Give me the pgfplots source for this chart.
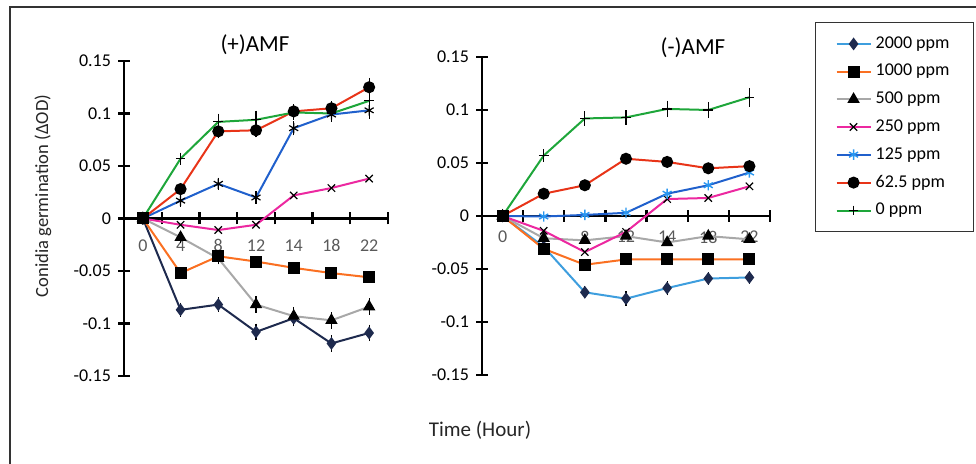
\documentclass[border=0pt]{standalone}
\usepackage{fontspec}
\setmainfont{Carlito}
\usepackage{pgfplots}
\pgfplotsset{compat=1.18}

\definecolor{cnavy}{RGB}{30,42,78}
\definecolor{csky}{RGB}{62,158,222}
\definecolor{corange}{RGB}{250,112,34}
\definecolor{cgray}{RGB}{168,168,168}
\definecolor{cmag}{RGB}{236,40,160}
\definecolor{cblue}{RGB}{32,96,204}
\definecolor{clblue}{RGB}{40,150,240}
\definecolor{cred}{RGB}{232,52,24}
\definecolor{cgreen}{RGB}{30,166,58}
\definecolor{ctick}{RGB}{90,90,90}

\pgfplotsset{
  panel/.style={
    scale only axis, clip=false,
    axis x line=middle, axis y line=left,
    hide obscured x ticks=false, hide obscured y ticks=false,
    axis line style={-, line width=1.1pt, black},
    xmin=-0.5, xmax=6.5, ymin=-0.15, ymax=0.15,
    xtick={-0.5,0.5,1.5,2.5,3.5,4.5,5.5,6.5},
    x tick label as interval,
    xticklabels={0,4,8,12,14,18,22},
    ytick={-0.15,-0.1,-0.05,0,0.05,0.1,0.15},
    yticklabels={-0.15,-0.1,-0.05,0,0.05,0.1,0.15},
    tick align=center, major tick length=6pt,
    tick style={line width=1.1pt, black},
    tick label style={font=\fontsize{9}{11}\selectfont},
    xticklabel style={text=ctick},
    every axis plot/.append style={line width=1pt},
  },
  ebar/.style={error bars/.cd, y dir=both, y explicit,
    error bar style={black, line width=0.6pt},
    error mark options={black, line width=0.6pt, mark size=2pt}},
  m2000/.style={mark=diamond*, mark size=2.4pt, mark options={fill=cnavy, draw=cnavy}},
  m1000/.style={corange, mark=square*, mark size=2.5pt, mark options={fill=black, draw=black}},
  m500/.style={cgray, mark=triangle*, mark size=2.6pt, mark options={fill=black, draw=black}},
  m250/.style={cmag, mark=x, mark size=2.6pt, mark options={black, line width=0.6pt}},
  m62/.style={cred, mark=*, mark size=2.5pt, mark options={fill=black, draw=black}},
  m0/.style={cgreen, mark=+, mark size=2.4pt, mark options={black, line width=0.6pt}},
}

\begin{document}
\begin{tikzpicture}
\useasboundingbox (0,0) rectangle (488pt,232pt);
\draw[line width=0.6pt, black!80] (5pt,0) -- (5pt,228.5pt) -- (488pt,228.5pt);

% (+)AMF
\begin{axis}[panel, at={(62pt,44pt)}, anchor=south west,
  width=132pt, height=157.5pt,
  xticklabel style={yshift=-4pt}]
\addplot[m2000, cnavy, ebar] coordinates {
  (0,0) +- (0,0) (1,-0.087) +- (0,0.003) (2,-0.082) +- (0,0.003)
  (3,-0.108) +- (0,0.004) (4,-0.095) +- (0,0.004) (5,-0.119) +- (0,0.004)
  (6,-0.109) +- (0,0.004)};
\addplot[m1000] coordinates {
  (0,0) (1,-0.052) (2,-0.036) (3,-0.041) (4,-0.047) (5,-0.052) (6,-0.056)};
\addplot[m500, ebar] coordinates {
  (0,0) +- (0,0) (1,-0.018) +- (0,0.002) (2,-0.038) +- (0,0.002)
  (3,-0.082) +- (0,0.004) (4,-0.093) +- (0,0.005) (5,-0.097) +- (0,0.004)
  (6,-0.084) +- (0,0.004)};
\addplot[m250] coordinates {
  (0,0) (1,-0.006) (2,-0.011) (3,-0.006) (4,0.022) (5,0.029) (6,0.038)};
\addplot[cblue, mark=asterisk, mark size=2.6pt, mark options={black, line width=0.6pt}, ebar] coordinates {
  (0,0) +- (0,0) (1,0.017) +- (0,0.002) (2,0.033) +- (0,0.002)
  (3,0.020) +- (0,0.002) (4,0.086) +- (0,0.003) (5,0.099) +- (0,0.003)
  (6,0.103) +- (0,0.004)};
\addplot[m62, ebar] coordinates {
  (0,0) +- (0,0) (1,0.028) +- (0,0.002) (2,0.083) +- (0,0.003)
  (3,0.084) +- (0,0.003) (4,0.102) +- (0,0.003) (5,0.105) +- (0,0.003)
  (6,0.125) +- (0,0.005)};
\addplot[m0, ebar] coordinates {
  (0,0) +- (0,0) (1,0.057) +- (0,0.002) (2,0.092) +- (0,0.004)
  (3,0.094) +- (0,0.005) (4,0.101) +- (0,0.003) (5,0.100) +- (0,0.003)
  (6,0.112) +- (0,0.006)};
\addplot[m1000, only marks] coordinates {(0,0)};
\end{axis}

% (-)AMF
\begin{axis}[panel, at={(241pt,44.5pt)}, anchor=south west,
  width=144pt, height=159pt,
  xticklabel style={yshift=-1pt},
  legend style={at={(1.156,1.110)}, anchor=north west,
    font=\fontsize{9}{11}\selectfont, draw=black!80, line width=0.6pt,
    row sep=2.5pt, inner xsep=10pt, inner ysep=5pt},
  legend cell align=left]
\addplot[m2000, csky, ebar] coordinates {
  (0,0) +- (0,0) (1,-0.029) +- (0,0.002) (2,-0.072) +- (0,0.002)
  (3,-0.078) +- (0,0.003) (4,-0.068) +- (0,0.003) (5,-0.059) +- (0,0.002)
  (6,-0.058) +- (0,0.002)};
\addlegendentry{2000 ppm}
\addplot[m1000] coordinates {
  (0,0) (1,-0.031) (2,-0.046) (3,-0.041) (4,-0.041) (5,-0.041) (6,-0.041)};
\addlegendentry{1000 ppm}
\addplot[m500] coordinates {
  (0,0) (1,-0.021) (2,-0.023) (3,-0.019) (4,-0.025) (5,-0.019) (6,-0.022)};
\addlegendentry{500 ppm}
\addplot[m250] coordinates {
  (0,0) (1,-0.014) (2,-0.034) (3,-0.015) (4,0.016) (5,0.017) (6,0.028)};
\addlegendentry{250 ppm}
\addplot[cblue, mark=asterisk, mark size=2.6pt, mark options={clblue, line width=0.7pt}] coordinates {
  (0,0) (1,-0.0005) (2,0.001) (3,0.003) (4,0.021) (5,0.029) (6,0.041)};
\addlegendentry{125 ppm}
\addplot[m62] coordinates {
  (0,0) (1,0.021) (2,0.029) (3,0.054) (4,0.051) (5,0.045) (6,0.047)};
\addlegendentry{62.5 ppm}
\addplot[m0, ebar] coordinates {
  (0,0) +- (0,0) (1,0.057) +- (0,0.002) (2,0.092) +- (0,0.003)
  (3,0.093) +- (0,0.003) (4,0.101) +- (0,0.004) (5,0.100) +- (0,0.004)
  (6,0.112) +- (0,0.005)};
\addlegendentry{0 ppm}
\addplot[m1000, only marks, forget plot] coordinates {(0,0)};
\end{axis}

\node[font=\fontsize{11.5}{13}\selectfont] at (127.5pt,209.5pt) {(+)AMF};
\node[font=\fontsize{11.5}{13}\selectfont] at (346.5pt,208pt) {(-)AMF};
\node[font=\fontsize{9.3}{11}\selectfont, rotate=90, text=black!85] at (21.5pt,134pt) {Conidia germination (ΔOD)};
\node[font=\fontsize{10.5}{12}\selectfont, text=black!85] at (240pt,17pt) {Time (Hour)};
\end{tikzpicture}
\end{document}
